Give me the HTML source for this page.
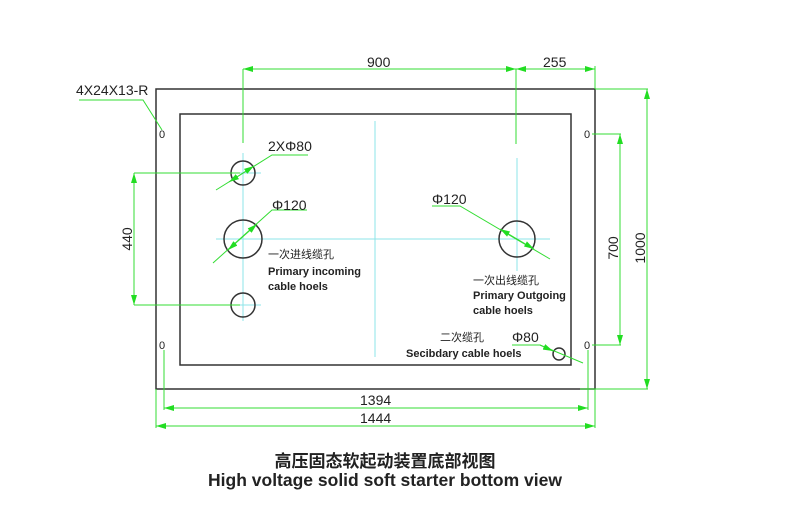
<!DOCTYPE html>
<html><head><meta charset="utf-8"><style>
html,body{margin:0;padding:0;background:#fff;}
svg{display:block;}
text{font-family:"Liberation Sans","Noto Sans CJK SC",sans-serif;fill:#222;}
</style></head><body>
<svg width="800" height="511" viewBox="0 0 800 511" xmlns="http://www.w3.org/2000/svg">
<defs>
<marker id="a" viewBox="0 0 10 6" refX="10" refY="3" markerWidth="10" markerHeight="6" orient="auto-start-reverse" markerUnits="userSpaceOnUse"><path d="M0,0L10,3L0,6z" fill="#22dd22"/></marker>
</defs>
<g stroke="#8ee4e8" stroke-width="1" fill="none">
<line x1="375" y1="121" x2="375" y2="357"/>
<line x1="243" y1="153" x2="243" y2="321"/>
<line x1="228" y1="173" x2="261" y2="173"/>
<line x1="216" y1="239" x2="550" y2="239"/>
<line x1="228" y1="305" x2="261" y2="305"/>
<line x1="517" y1="158" x2="517" y2="271"/>
</g>
<g stroke="#333" stroke-width="1.5" fill="none">
<rect x="156" y="89" width="439" height="300"/>
<rect x="180" y="114" width="391" height="251"/>
<circle cx="243" cy="173" r="12"/>
<circle cx="243" cy="239" r="19"/>
<circle cx="243" cy="305" r="12"/>
<circle cx="517" cy="239" r="18"/>
<circle cx="559" cy="354" r="6"/>
</g>
<g stroke="#33dd33" stroke-width="1" fill="none">
<line x1="243" y1="69" x2="516" y2="69" marker-start="url(#a)" marker-end="url(#a)"/>
<line x1="516" y1="69" x2="595" y2="69" marker-start="url(#a)" marker-end="url(#a)"/>
<line x1="243" y1="69" x2="243" y2="143"/>
<line x1="516" y1="69" x2="516" y2="144"/>
<line x1="595" y1="66" x2="595" y2="89"/>
<line x1="647" y1="89" x2="647" y2="389" marker-start="url(#a)" marker-end="url(#a)"/>
<line x1="595" y1="89" x2="648" y2="89"/>
<line x1="580" y1="389" x2="648" y2="389"/>
<line x1="620" y1="134" x2="620" y2="345" marker-start="url(#a)" marker-end="url(#a)"/>
<line x1="592" y1="134" x2="621" y2="134"/>
<line x1="592" y1="345" x2="621" y2="345"/>
<line x1="164" y1="408" x2="588" y2="408" marker-start="url(#a)" marker-end="url(#a)"/>
<line x1="164" y1="350" x2="164" y2="410"/>
<line x1="588" y1="350" x2="588" y2="410"/>
<line x1="156" y1="426" x2="595" y2="426" marker-start="url(#a)" marker-end="url(#a)"/>
<line x1="156" y1="389" x2="156" y2="428"/>
<line x1="595" y1="389" x2="595" y2="428"/>
<line x1="134" y1="173" x2="134" y2="305" marker-start="url(#a)" marker-end="url(#a)"/>
<line x1="134" y1="173" x2="240" y2="173"/>
<line x1="134" y1="305" x2="240" y2="305"/>
<polyline points="79,100 143,100 162,130"/>
<polyline points="216,190 272,155 308,155"/>
<line x1="229" y1="182" x2="254" y2="166" marker-start="url(#a)" marker-end="url(#a)"/>
<polyline points="213,263 272,210 307,210"/>
<line x1="228" y1="250" x2="257" y2="224" marker-start="url(#a)" marker-end="url(#a)"/>
<polyline points="432,206 460,206 550,259"/>
<line x1="500" y1="229" x2="534" y2="249" marker-start="url(#a)" marker-end="url(#a)"/>
<polyline points="512,345 540,345 583,363"/>
<line x1="540" y1="345" x2="553" y2="351" marker-end="url(#a)"/>
</g>
<g font-size="14">
<text x="367" y="67">900</text>
<text x="543" y="67">255</text>
<text x="76" y="95">4X24X13-R</text>
<text x="268" y="151">2XΦ80</text>
<text x="272" y="210">Φ120</text>
<text x="432" y="204">Φ120</text>
<text x="512" y="342">Φ80</text>
<text x="360" y="405">1394</text>
<text x="360" y="423">1444</text>
<text transform="translate(132,239) rotate(-90)" text-anchor="middle">440</text>
<text transform="translate(618,248) rotate(-90)" text-anchor="middle">700</text>
<text transform="translate(645,248) rotate(-90)" text-anchor="middle">1000</text>
</g>
<g font-size="11">
<text x="159" y="138">0</text>
<text x="159" y="349">0</text>
<text x="584" y="138">0</text>
<text x="584" y="349">0</text>
</g>
<g font-size="11">
<text x="268" y="258">一次进线缆孔</text>
<text x="268" y="275" font-weight="bold" fill="#333">Primary incoming</text>
<text x="268" y="290" font-weight="bold">cable hoels</text>
<text x="473" y="284">一次出线缆孔</text>
<text x="473" y="299" font-weight="bold">Primary Outgoing</text>
<text x="473" y="314" font-weight="bold">cable hoels</text>
<text x="440" y="341">二次缆孔</text>
<text x="406" y="357" font-weight="bold">Secibdary cable hoels</text>
</g>
<text x="385" y="467" font-size="17" font-weight="bold" text-anchor="middle">高压固态软起动装置底部视图</text>
<text x="385" y="486" font-size="17.5" font-weight="bold" text-anchor="middle">High voltage solid soft starter bottom view</text>
</svg>
</body></html>
